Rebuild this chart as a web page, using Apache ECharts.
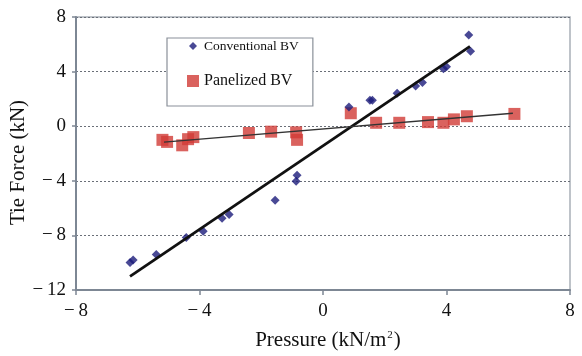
<!DOCTYPE html>
<html><head><meta charset="utf-8">
<script src="https://cdn.jsdelivr.net/npm/echarts@6/dist/echarts.min.js"></script>
<style>html,body{margin:0;padding:0;background:#fff}#c{width:582px;height:356px}</style>
</head><body><div id="c"></div>
<script>
// Data
const xTicks = [-8, -4, 0, 4, 8];
const yTicks = [-12, -8, -4, 0, 4, 8];
const convX = [-6.25, -6.15, -5.4, -4.43, -3.88, -3.27, -3.04, -1.55, -0.87, -0.84, 0.84, 1.52, 1.6, 2.4, 3.0, 3.22, 3.9, 4.0, 4.72, 4.78];
const convY = [-9.98, -9.8, -9.4, -8.15, -7.7, -6.75, -6.46, -5.43, -4.04, -3.6, 1.4, 1.9, 1.9, 2.42, 2.94, 3.2, 4.2, 4.35, 6.68, 5.5];
const panX = [-5.2, -5.05, -4.56, -4.37, -4.2, -2.4, -1.68, -0.87, -0.84, 0.9, 1.72, 2.47, 3.4, 3.9, 4.24, 4.66, 6.2];
const panY = [-1.0, -1.15, -1.4, -0.95, -0.8, -0.5, -0.4, -0.45, -1.0, 0.95, 0.25, 0.25, 0.3, 0.25, 0.5, 0.73, 0.9];
const convFitX = [-6.25, 4.76];
const convFitY = [-11.0, 5.85];
const panFitX = [-5.15, 6.15];
const panFitY = [-1.17, 0.95];

const zip = (a, b) => a.map((v, i) => [v, b[i]]);
const fmt = v => v < 0 ? '\u2212\u2009' + Math.abs(v) : String(v);
const serif = '"Liberation Serif", "DejaVu Serif", serif';

const chart = echarts.init(document.getElementById('c'), null, {renderer: 'canvas'});
chart.setOption({
  animation: false,
  backgroundColor: '#fff',
  grid: {left: 76, right: 12, top: 17, bottom: 66, outerBoundsMode: 'none', containLabel: false,
         show: true, borderColor: '#a9b0b8', borderWidth: 1.5, backgroundColor: 'transparent'},
  legend: {
    left: 167, top: 38, width: 110,
    orient: 'vertical',
    backgroundColor: '#fff',
    borderColor: '#8a9099', borderWidth: 1.2, borderRadius: 0,
    padding: [1, 14, 17, 20],
    itemGap: 20, itemWidth: 12, itemHeight: 12,
    data: [
      {name: 'Conventional BV', icon: 'path://M0,0 M12,12 M2,6 L6,2 L10,6 L6,10 Z'},
      {name: 'Panelized BV', icon: 'rect'}
    ],
    formatter: n => n === 'Conventional BV' ? '{a|' + n + '}' : '{b|' + n + '}',
    textStyle: {
      fontFamily: serif, color: '#111',
      rich: {a: {fontFamily: serif, fontSize: 13.5, color: '#111'}, b: {fontFamily: serif, fontSize: 16, color: '#111'}}
    },
    selectedMode: false
  },
  xAxis: {
    type: 'value', min: -8, max: 8, interval: 4,
    name: '{t|Pressure (kN/m}{s|2}{t|)}', nameLocation: 'middle', nameGap: 40,
    nameTextStyle: {fontFamily: serif, fontSize: 21, color: '#111', padding: [0, 0, 0, 10],
      rich: {t: {fontFamily: serif, fontSize: 21, color: '#111'},
             s: {fontFamily: serif, fontSize: 11, color: '#111', verticalAlign: 'top', padding: [0, 1, 8, 1]}}},
    axisLine: {onZero: false, lineStyle: {color: '#7d8794', width: 2}},
    axisTick: {show: true, length: 5, lineStyle: {color: '#7d8794', width: 1.5}},
    axisLabel: {fontFamily: serif, fontSize: 19, color: '#111', margin: 12, formatter: v => xTicks.includes(v) ? fmt(v) : ''},
    splitLine: {show: false}
  },
  yAxis: {
    type: 'value', min: -12, max: 8, interval: 4,
    name: 'Tie Force (kN)', nameLocation: 'middle', nameGap: 47, nameMoveOverlap: false,
    nameTextStyle: {fontFamily: serif, fontSize: 21, color: '#111', padding: [0, 18, 0, 0]},
    axisLine: {onZero: false, lineStyle: {color: '#7d8794', width: 2}},
    axisTick: {show: true, length: 4, lineStyle: {color: '#7d8794', width: 1.5}},
    axisLabel: {fontFamily: serif, fontSize: 19, color: '#111', margin: 10, formatter: v => yTicks.includes(v) ? fmt(v) : ''},
    splitLine: {show: true, lineStyle: {color: '#6a6f78', type: [2, 2], width: 1}}
  },
  series: [
    {name: 'Conventional BV', type: 'scatter', symbol: 'diamond', symbolSize: 9, z: 4,
     itemStyle: {color: '#1c1c7a'}, data: zip(convX, convY)},
    {name: 'Panelized BV', type: 'scatter', symbol: 'rect', symbolSize: 12, z: 3,
     itemStyle: {color: '#d13b36'}, data: zip(panX, panY)},
    {name: 'convFit', type: 'line', symbol: 'none', z: 5, lineStyle: {color: '#111', width: 2.8},
     data: zip(convFitX, convFitY)},
    {name: 'panFit', type: 'line', symbol: 'none', z: 5, lineStyle: {color: '#333', width: 1.3},
     data: zip(panFitX, panFitY)}
  ]
});
</script></body></html>
